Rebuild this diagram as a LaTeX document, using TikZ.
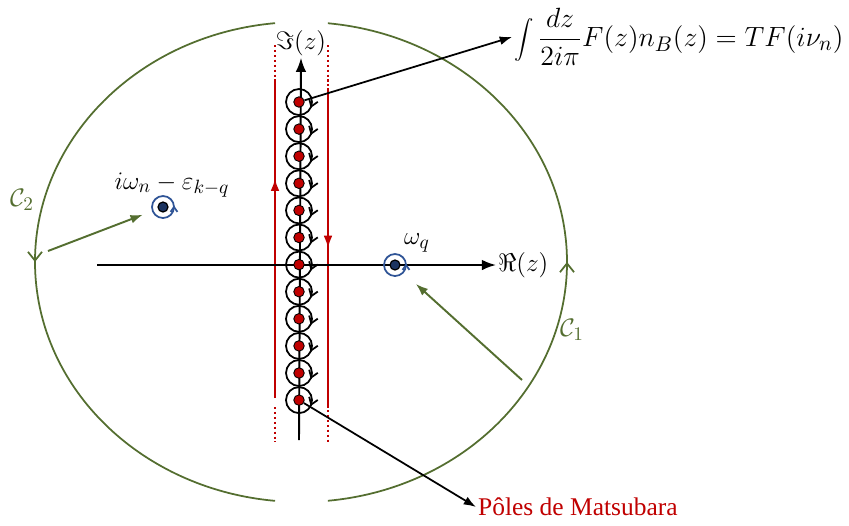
\documentclass[tikz,border=0pt]{standalone}
\usepackage{fontspec}
\newfontfamily\timesfont{Liberation Serif}
\usetikzlibrary{arrows.meta, positioning, decorations.markings}

\definecolor{vertC}{RGB}{84,110,48}
\definecolor{bleuP}{RGB}{47,84,150}
\definecolor{bleuF}{RGB}{28,52,96}
\definecolor{rougeM}{RGB}{192,0,0}

\tikzset{
    etiq/.style={font=\fontsize{15}{18}\selectfont, inner sep=1pt},
    pole/.style={circle, draw=black, fill=rougeM, inner sep=0pt, minimum size=0.21cm, line width=0.5pt},
    polebleu/.style={circle, draw=black, fill=bleuF, inner sep=0pt, minimum size=0.2cm, line width=0.7pt},
    tour/.style={draw=black, line width=1pt, line join=miter},
    tourbleu/.style={draw=bleuP, line width=1pt, line join=miter},
    contour/.style={draw=vertC, line width=1pt, postaction={decorate},
        decoration={markings, mark=at position 0.5 with {\arrow{Straight Barb[length=5pt, width=8pt, line width=1pt]}}}},
    fleche/.style={draw=vertC, line width=1.1pt, -{Latex[length=7pt, width=5pt]}},
    rouge/.style={draw=rougeM, line width=1.1pt},
    pointille/.style={draw=rougeM, line width=1.1pt, dash pattern=on 1.2pt off 1.6pt},
}

\begin{document}
\begin{tikzpicture}[x=0.02cm, y=-0.02cm]
    \useasboundingbox (0,0) rectangle (849,525);

    % Contours C1 et C2
    \coordinate (o) at (301,262);
    \draw[contour] ([shift={(84.2:266 and 240)}]o) arc[start angle=84.2, end angle=-84.2, x radius=266, y radius=240];
    \draw[contour] ([shift={(264.4:266 and 240)}]o) arc[start angle=264.4, end angle=95.6, x radius=266, y radius=240];
    \node[etiq, text=vertC] (lc1) at (572,330) {$\mathcal{C}_1$};
    \node[etiq, text=vertC] (lc2) at (22,200) {$\mathcal{C}_2$};

    % Contour autour de l'axe imaginaire
    \draw[pointille] (275,45) -- (275,80);
    \draw[rouge, postaction={decorate}, decoration={markings, mark=at position 0.69 with {\arrow{Latex[length=7pt, width=5pt]}}}] (275,398) -- (275,80);
    \draw[pointille] (275,407) -- (275,442);
    \draw[pointille] (328,45) -- (328,88);
    \draw[rouge, postaction={decorate}, decoration={markings, mark=at position 0.5 with {\arrow{Latex[length=7pt, width=5pt]}}}] (328,88) -- (328,408);
    \draw[pointille] (328,410) -- (328,442);

    % Axes
    \node[etiq] (im) at (301,43) {$\Im(z)$};
    \node[etiq, anchor=west] (re) at (496,265) {$\Re(z)$};
    \coordinate (gy) at (299,440);
    \coordinate (gx) at (97,265);
    \draw[line width=1.1pt, -{Latex[length=8pt, width=6pt]}] (gy) -- (im.south);
    \draw[line width=1.1pt, -{Latex[length=8pt, width=6pt]}] (gx) -- (re.west);

    % Poles de Matsubara
    \foreach \i in {1,...,12} {
        \node[pole] (p\i) at (299,{102+(\i-1)*27.1}) {};
        \draw[tour] (p\i) circle[radius=13];
        \draw[tour] (p\i) ++(20:13) ++(-35:8) -- ++(145:8) -- ++(-105:8);
    }

    % Poles de F(z)
    \node[polebleu] (b1) at (163,207) {};
    \draw[tourbleu] (b1) circle[radius=11];
    \draw[tourbleu] (b1) ++(0:11) ++(55:6) -- ++(235:6) -- ++(125:6);
    \node[etiq] (lb1) at (172,185) {$i\omega_n-\varepsilon_{k-q}$};
    \node[polebleu] (b2) at (395,265) {};
    \draw[tourbleu] (b2) circle[radius=11];
    \draw[tourbleu] (b2) ++(0:11) ++(55:6) -- ++(235:6) -- ++(125:6);
    \node[etiq] (lb2) at (417,243) {$\omega_q$};

    % Deformation des contours
    \coordinate (f2) at (48,251);
    \coordinate (f1) at (522,380);
    \draw[fleche, shorten >=0.32cm] (f2) -- (b1);
    \draw[fleche, shorten >=0.45cm] (f1) -- (b2);

    % Legendes
    \node[etiq, anchor=west] (formule) at (512,37) {\scalebox{1.1}{$\displaystyle\int\frac{dz}{2i\pi}F(z)n_B(z)=TF(i\nu_n)$}};
    \node[anchor=west, text=rougeM, font=\timesfont\fontsize{14.5}{17}\selectfont, inner sep=1pt] (matsu) at (476,507) {Pôles de Matsubara};
    \draw[line width=1pt, -{Latex[length=7pt, width=5pt]}] (p1) -- (formule.west);
    \draw[line width=1pt, -{Latex[length=7pt, width=5pt]}] (p12) -- (matsu.west);
\end{tikzpicture}
\end{document}
